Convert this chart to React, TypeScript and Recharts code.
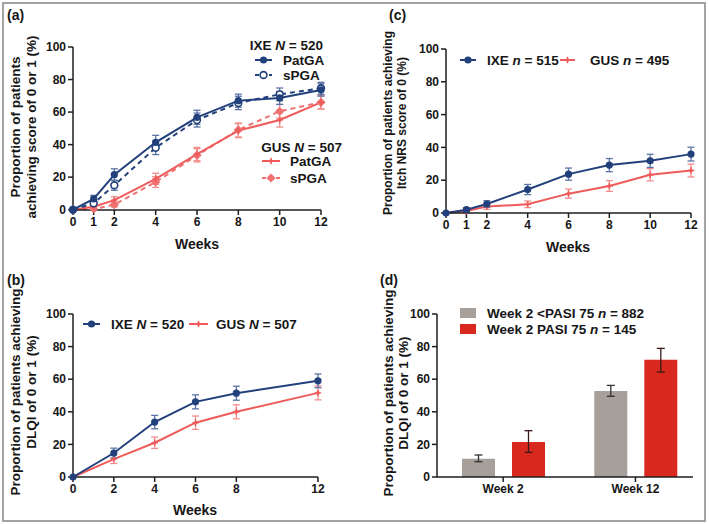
import React from 'react';
import { LineChart, Line, XAxis, YAxis, ErrorBar, BarChart, Bar, Legend } from 'recharts';

// ---------- data ----------
const weeksA = [0, 1, 2, 4, 6, 8, 10, 12];
const ixePatGA = [0, 6.6, 21.5, 41.4, 56.8, 67, 68.7, 73.6];
const ixePatGAErr = [null, 2.2, 3.6, 4.3, 4.3, 4.0, 4.0, 3.8];
const ixeSPGA = [0, 3.9, 15, 38.1, 55.1, 65.6, 70.9, 74.6];
const ixeSPGAErr = [null, 1.7, 3.1, 4.2, 4.3, 4.1, 3.9, 3.7];
const gusPatGA = [0, 1.8, 5.9, 19, 34.2, 48.6, 55.1, 66];
const gusPatGAErr = [null, 1.2, 2.1, 3.4, 4.1, 4.3, 4.3, 4.1];
const gusSPGA = [0, 0.4, 3.1, 17, 33.4, 49, 60.5, 66];
const gusSPGAErr = [null, 0.6, 1.5, 3.3, 4.1, 4.3, 4.2, 4.1];

const weeksC = [0, 1, 2, 4, 6, 8, 10, 12];
const ixeItch = [0, 2, 5.5, 14.3, 23.7, 29.2, 31.8, 35.9];
const ixeItchErr = [null, 1.2, 2.0, 3.1, 3.7, 4.0, 4.0, 4.2];
const gusItch = [0, 1.2, 3.9, 5.3, 11.8, 16.5, 23.3, 25.9];
const gusItchErr = [null, 1.0, 1.7, 2.0, 2.8, 3.3, 3.7, 3.9];

const weeksB = [0, 2, 4, 6, 8, 12];
const ixeDlqi = [0, 14.7, 33.7, 46.1, 51.4, 59];
const ixeDlqiErr = [null, 3.0, 4.1, 4.3, 4.3, 4.2];
const gusDlqi = [0, 11, 21, 33.3, 40, 51.6];
const gusDlqiErr = [null, 2.7, 3.5, 4.1, 4.3, 4.3];

const barCategories = ['Week 2', 'Week 12'];
const belowPasi = [11.2, 52.8];
const belowPasiErr = [[1.8, 2.3], [3.3, 3.4]];
const pasi75 = [21.5, 72];
const pasi75Err = [[6.4, 6.9], [7.6, 6.9]];

const yTicks = [0, 20, 40, 60, 80, 100];
const ixeN = 520;
const gusN = 507;
const ixeItchN = 515;
const gusItchN = 495;
const belowN = 882;
const p75N = 145;

// ---------- styles ----------
const FONT = '"Liberation Sans", Arial, Helvetica, sans-serif';
const NAVY = '#22407B';
const NAVY_ERR = '#5A74A5';
const RED = '#EE5B5A';
const RED_LIGHT = '#F07170';
const RED_ERR = '#F28E8C';
const GREY = '#A79F99';
const BAR_RED = '#D9291F';
const AXIS = '#1E1E1E';
const TXT = '#161616';

const tickStyle = { fill: TXT, fontSize: 12, fontWeight: 700, fontFamily: FONT };
const axisCommon: any = {
  axisLine: { stroke: AXIS, strokeWidth: 1.5 },
  tickLine: { stroke: AXIS, strokeWidth: 1.5 },
  tickSize: 5,
  tick: tickStyle,
  tickMargin: 2,
};

type Shape = 'circle' | 'ring' | 'plus' | 'diamond';

function Marker({ cx, cy, shape, color }: { cx: number; cy: number; shape: Shape; color: string }) {
  if (cx == null || cy == null || isNaN(cx) || isNaN(cy)) return <g />;
  if (shape === 'circle') return <circle cx={cx} cy={cy} r={3.6} fill={color} />;
  if (shape === 'ring')
    return <circle cx={cx} cy={cy} r={3.4} fill="#fff" stroke={color} strokeWidth={1.6} />;
  if (shape === 'diamond')
    return (
      <path
        d={`M${cx},${cy - 4.6}L${cx + 4.6},${cy}L${cx},${cy + 4.6}L${cx - 4.6},${cy}Z`}
        fill={color}
      />
    );
  return (
    <g>
      <path d={`M${cx - 3.2},${cy}H${cx + 3.2}M${cx},${cy - 3.2}V${cy + 3.2}`} stroke={color} strokeWidth={1.4} />
      <circle cx={cx} cy={cy} r={1.8} fill={color} />
    </g>
  );
}

const dotFn = (shape: Shape, color: string) => (p: any) => (
  <Marker key={`m-${p.index}`} cx={p.cx} cy={p.cy} shape={shape} color={color} />
);

function Sample({ x1, x2, y, color, dash, shape }: any) {
  return (
    <g>
      <line x1={x1} x2={x2} y1={y} y2={y} stroke={color} strokeWidth={2} strokeDasharray={dash} />
      <Marker cx={(x1 + x2) / 2} cy={y} shape={shape} color={color} />
    </g>
  );
}

const txt = { fontFamily: FONT, fontWeight: 700, fontSize: 13.5, fill: TXT } as any;

function GroupLabel({ x, y, name, letter, n, anchor }: any) {
  return (
    <text x={x} y={y} textAnchor={anchor || 'start'} style={txt}>
      {name + ' '}
      <tspan fontStyle="italic">{letter}</tspan>
      {` = ${n}`}
    </text>
  );
}

// ---------- legends ----------
const LegendA = () => (
  <svg width={350} height={260} style={{ display: 'block' }}>
    <GroupLabel x={323} y={50} name="IXE" letter="N" n={ixeN} anchor="end" />
    <Sample x1={255} x2={272} y={60} color={NAVY} shape="circle" />
    <text x={283} y={65} style={txt}>PatGA</text>
    <Sample x1={255} x2={272} y={75} color={NAVY} dash="4 3" shape="ring" />
    <text x={283} y={80} style={txt}>sPGA</text>
    <GroupLabel x={342} y={152} name="GUS" letter="N" n={gusN} anchor="end" />
    <Sample x1={262} x2={280} y={161} color={RED} shape="plus" />
    <text x={290} y={166} style={txt}>PatGA</text>
    <Sample x1={262} x2={280} y={178} color={RED_LIGHT} dash="4 3" shape="diamond" />
    <text x={290} y={183} style={txt}>sPGA</text>
  </svg>
);

const LegendC = () => (
  <svg width={359} height={260} style={{ display: 'block' }}>
    <Sample x1={110} x2={126} y={60} color={NAVY} shape="circle" />
    <GroupLabel x={137} y={65} name="IXE" letter="n" n={ixeItchN} />
    <Sample x1={210} x2={225} y={60} color={RED} shape="plus" />
    <GroupLabel x={240} y={65} name="GUS" letter="n" n={gusItchN} />
  </svg>
);

const LegendB = () => (
  <svg width={350} height={264} style={{ display: 'block' }}>
    <Sample x1={83} x2={100} y={64} color={NAVY} shape="circle" />
    <GroupLabel x={111} y={69} name="IXE" letter="N" n={ixeN} />
    <Sample x1={189} x2={208} y={64} color={RED} shape="plus" />
    <GroupLabel x={216} y={69} name="GUS" letter="N" n={gusN} />
  </svg>
);

const LegendD = () => (
  <svg width={359} height={264} style={{ display: 'block' }}>
    <rect x={110} y={48} width={16} height={10} fill={GREY} />
    <text x={137} y={58} style={txt}>
      {'Week 2 <PASI 75 '}
      <tspan fontStyle="italic">n</tspan>
      {` = ${belowN}`}
    </text>
    <rect x={110} y={64} width={16} height={10} fill={BAR_RED} />
    <text x={137} y={74} style={txt}>
      {'Week 2 PASI 75 '}
      <tspan fontStyle="italic">n</tspan>
      {` = ${p75N}`}
    </text>
  </svg>
);

// ---------- tables ----------
const tableA = weeksA.map((w, i) => ({
  week: w,
  ixePat: ixePatGA[i],
  ixePatErr: ixePatGAErr[i],
  ixeS: ixeSPGA[i],
  ixeSErr: ixeSPGAErr[i],
  gusPat: gusPatGA[i],
  gusPatErr: gusPatGAErr[i],
  gusS: gusSPGA[i],
  gusSErr: gusSPGAErr[i],
}));
const tableC = weeksC.map((w, i) => ({
  week: w,
  ixe: ixeItch[i],
  ixeErr: ixeItchErr[i],
  gus: gusItch[i],
  gusErr: gusItchErr[i],
}));
const tableB = weeksB.map((w, i) => ({
  week: w,
  ixe: ixeDlqi[i],
  ixeErr: ixeDlqiErr[i],
  gus: gusDlqi[i],
  gusErr: gusDlqiErr[i],
}));
const tableD = barCategories.map((c, i) => ({
  idx: i,
  below: belowPasi[i],
  belowErr: belowPasiErr[i],
  p75: pasi75[i],
  p75Err: pasi75Err[i],
}));

function YLabel({ x, y, lines, size, gap }: { x: number; y: number; lines: string[]; size: number; gap: number }) {
  return (
    <g>
      {lines.map((l, i) => (
        <text
          key={i}
          x={x + i * gap}
          y={y}
          textAnchor="middle"
          transform={`rotate(-90 ${x + i * gap} ${y})`}
          style={{ ...txt, fontSize: size }}
        >
          {l}
        </text>
      ))}
    </g>
  );
}

const ebLine = (key: string, color: string) => (
  <ErrorBar dataKey={key} width={3.5} stroke={color} strokeWidth={1.3} direction="y" />
);

export default function App() {
  return (
    <div
      style={{
        position: 'absolute',
        left: 0,
        top: 0,
        width: 709,
        height: 524,
        background: '#fff',
        fontFamily: FONT,
        overflow: 'hidden',
      }}
    >
      <svg width={709} height={524} style={{ position: 'absolute', left: 0, top: 0 }}>
        <rect x={3} y={3} width={702} height={518} fill="none" stroke="#A3A3A3" strokeWidth={2} />
        <text x={7} y={20} style={{ ...txt, fontSize: 14 }}>(a)</text>
        <text x={389} y={20} style={{ ...txt, fontSize: 14 }}>(c)</text>
        <text x={7} y={285} style={{ ...txt, fontSize: 14 }}>(b)</text>
        <text x={380} y={285} style={{ ...txt, fontSize: 14 }}>(d)</text>
        <YLabel x={20} y={127} size={13.5} gap={16} lines={['Proportion of patients', 'achieving score of 0 or 1 (%)']} />
        <YLabel x={392} y={123} size={12} gap={14} lines={['Proportion of patients achieving', 'Itch NRS score of 0 (%)']} />
        <YLabel x={20} y={392} size={13.5} gap={16} lines={['Proportion of patients achieving', 'DLQI of 0 or 1 (%)']} />
        <YLabel x={392.5} y={393} size={13.5} gap={15} lines={['Proportion of patients achieving', 'DLQI of 0 or 1 (%)']} />
        <text x={197} y={249} textAnchor="middle" style={{ ...txt, fontSize: 14 }}>Weeks</text>
        <text x={568} y={252} textAnchor="middle" style={{ ...txt, fontSize: 14 }}>Weeks</text>
        <text x={195} y={515} textAnchor="middle" style={{ ...txt, fontSize: 14 }}>Weeks</text>
      </svg>

      {/* (a) */}
      <div style={{ position: 'absolute', left: 0, top: 0 }}>
        <LineChart width={350} height={260} data={tableA} margin={{ top: 47, right: 29, bottom: 20, left: 33 }}>
          <XAxis {...axisCommon} type="number" dataKey="week" domain={[0, 12]} ticks={weeksA} height={30} />
          <YAxis {...axisCommon} type="number" domain={[0, 100]} ticks={yTicks} width={40} />
          <Line dataKey="gusS" stroke={RED_LIGHT} strokeWidth={2} strokeDasharray="5 4" dot={dotFn('diamond', RED_LIGHT)} activeDot={false} isAnimationActive={false}>
            {ebLine('gusSErr', RED_ERR)}
          </Line>
          <Line dataKey="gusPat" stroke={RED} strokeWidth={2} dot={dotFn('plus', RED)} activeDot={false} isAnimationActive={false}>
            {ebLine('gusPatErr', RED_ERR)}
          </Line>
          <Line dataKey="ixeS" stroke={NAVY} strokeWidth={2} strokeDasharray="5 4" dot={dotFn('ring', NAVY)} activeDot={false} isAnimationActive={false}>
            {ebLine('ixeSErr', NAVY_ERR)}
          </Line>
          <Line dataKey="ixePat" stroke={NAVY} strokeWidth={2} dot={dotFn('circle', NAVY)} activeDot={false} isAnimationActive={false}>
            {ebLine('ixePatErr', NAVY_ERR)}
          </Line>
          <Legend verticalAlign="middle" align="center" layout="horizontal" wrapperStyle={{ left: 0, top: 0, width: 350, height: 260, pointerEvents: 'none' }} content={() => <LegendA />} />
        </LineChart>
      </div>

      {/* (c) */}
      <div style={{ position: 'absolute', left: 350, top: 0 }}>
        <LineChart width={359} height={260} data={tableC} margin={{ top: 49, right: 18, bottom: 17, left: 56 }}>
          <XAxis {...axisCommon} type="number" dataKey="week" domain={[0, 12]} ticks={weeksC} height={30} />
          <YAxis {...axisCommon} type="number" domain={[0, 100]} ticks={yTicks} width={40} />
          <Line dataKey="gus" stroke={RED} strokeWidth={2} dot={dotFn('plus', RED)} activeDot={false} isAnimationActive={false}>
            {ebLine('gusErr', RED_ERR)}
          </Line>
          <Line dataKey="ixe" stroke={NAVY} strokeWidth={2} dot={dotFn('circle', NAVY)} activeDot={false} isAnimationActive={false}>
            {ebLine('ixeErr', NAVY_ERR)}
          </Line>
          <Legend verticalAlign="middle" align="center" layout="horizontal" wrapperStyle={{ left: 0, top: 0, width: 359, height: 260, pointerEvents: 'none' }} content={() => <LegendC />} />
        </LineChart>
      </div>

      {/* (b) */}
      <div style={{ position: 'absolute', left: 0, top: 260 }}>
        <LineChart width={350} height={264} data={tableB} margin={{ top: 54, right: 32, bottom: 17, left: 33 }}>
          <XAxis {...axisCommon} type="number" dataKey="week" domain={[0, 12]} ticks={weeksB} height={30} />
          <YAxis {...axisCommon} type="number" domain={[0, 100]} ticks={yTicks} width={40} />
          <Line dataKey="gus" stroke={RED} strokeWidth={2} dot={dotFn('plus', RED)} activeDot={false} isAnimationActive={false}>
            {ebLine('gusErr', RED_ERR)}
          </Line>
          <Line dataKey="ixe" stroke={NAVY} strokeWidth={2} dot={dotFn('circle', NAVY)} activeDot={false} isAnimationActive={false}>
            {ebLine('ixeErr', NAVY_ERR)}
          </Line>
          <Legend verticalAlign="middle" align="center" layout="horizontal" wrapperStyle={{ left: 0, top: 0, width: 350, height: 264, pointerEvents: 'none' }} content={() => <LegendB />} />
        </LineChart>
      </div>

      {/* (d) */}
      <div style={{ position: 'absolute', left: 350, top: 260 }}>
        <BarChart width={359} height={264} data={tableD} margin={{ top: 54, right: 16, bottom: 17, left: 47 }} barSize={33} barGap={17}>
          <XAxis
            {...axisCommon}
            type="number"
            dataKey="idx"
            domain={[-0.5, 1.435]}
            ticks={[0, 1]}
            tickFormatter={(v: number) => barCategories[Math.round(v)]}
            height={30}
            allowDataOverflow
          />
          <YAxis {...axisCommon} type="number" domain={[0, 100]} ticks={yTicks} width={40} />
          <Bar dataKey="below" fill={GREY} isAnimationActive={false}>
            <ErrorBar dataKey="belowErr" width={4} stroke="#333" strokeWidth={1.3} direction="y" />
          </Bar>
          <Bar dataKey="p75" fill={BAR_RED} isAnimationActive={false}>
            <ErrorBar dataKey="p75Err" width={4} stroke="#3a1a18" strokeWidth={1.3} direction="y" />
          </Bar>
          <Legend verticalAlign="middle" align="center" layout="horizontal" wrapperStyle={{ left: 0, top: 0, width: 359, height: 264, pointerEvents: 'none' }} content={() => <LegendD />} />
        </BarChart>
      </div>
    </div>
  );
}
